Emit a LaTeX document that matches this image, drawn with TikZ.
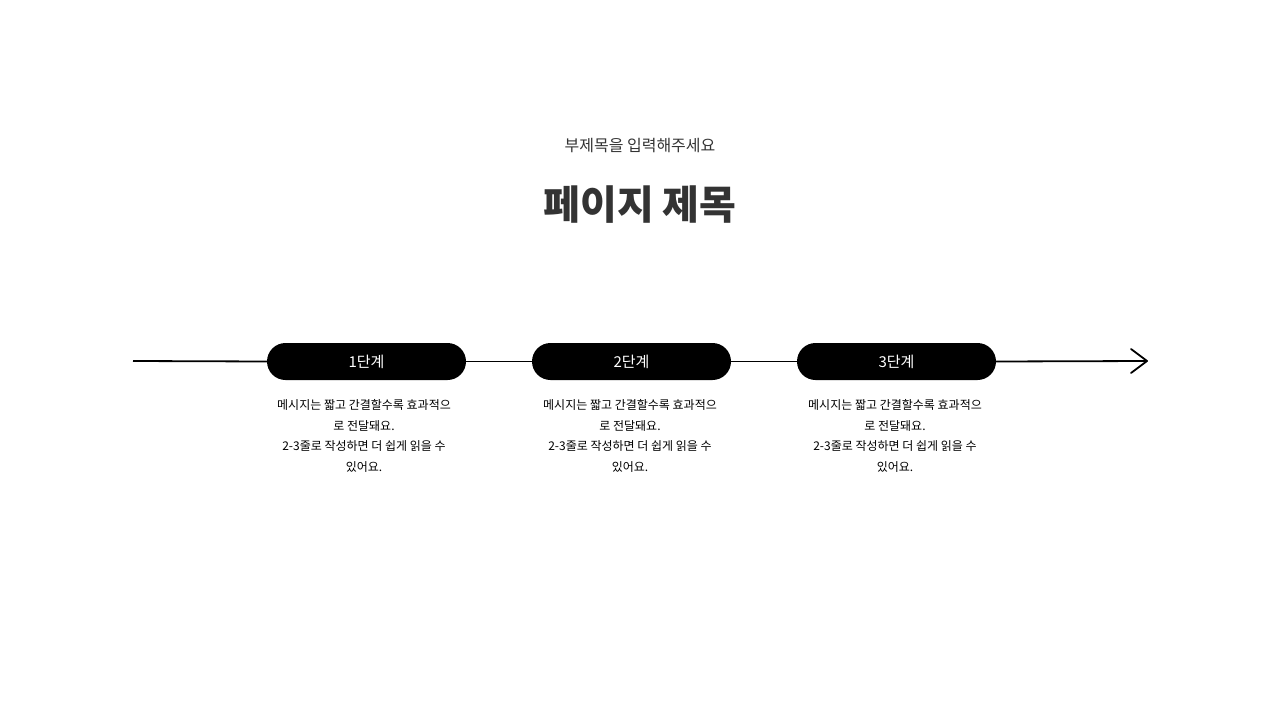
\documentclass[tikz,border=0pt]{standalone}
\usepackage{fontspec}
\setmainfont{Noto Sans CJK KR}
\newfontfamily\krbold{Noto Sans CJK KR Bold}
\definecolor{titlegray}{HTML}{333333}
\begin{document}
\begin{tikzpicture}[x=1pt,y=-1pt,
  pill/.style={fill=black,rounded corners=18.5pt,minimum width=199pt,minimum height=37pt,text=white,font=\fontsize{15}{18}\selectfont,inner sep=0pt},
  body/.style={align=center,font=\fontsize{12}{20.5}\selectfont,text=black}]
\useasboundingbox (0,0) rectangle (1280,720);
\node[text=titlegray,font=\fontsize{16}{20}\selectfont] (sub) at (640,146) {부제목을 입력해주세요};
\node[text=titlegray,font=\fontsize{40}{46}\selectfont\bfseries] (title) at (640,205) {페이지 제목};
\coordinate (start) at (133,361);
\coordinate (end) at (1147,361);
\node[pill] (p1) at (366.5,361.5) {1단계};
\node[pill] (p2) at (631.5,361.5) {2단계};
\node[pill] (p3) at (896.5,361.5) {3단계};
\draw[line width=1.8pt] (start) -- (p1.west);
\draw[line width=1.8pt] (p1.east) -- (p2.west);
\draw[line width=1.8pt] (p2.east) -- (p3.west);
\draw[line width=1.8pt] (p3.east) -- (end);
\draw[line width=1.8pt,line cap=round,line join=round] ([shift={(-16,-12)}]end) -- (end) -- ([shift={(-16,12)}]end);
\foreach \i/\x in {1/364,2/630,3/895}{
\node[body] (b\i) at (\x,436) {메시지는 짧고 간결할수록 효과적으\\로 전달돼요.\\2-3줄로 작성하면 더 쉽게 읽을 수\\있어요.};
}
\end{tikzpicture}
\end{document}
